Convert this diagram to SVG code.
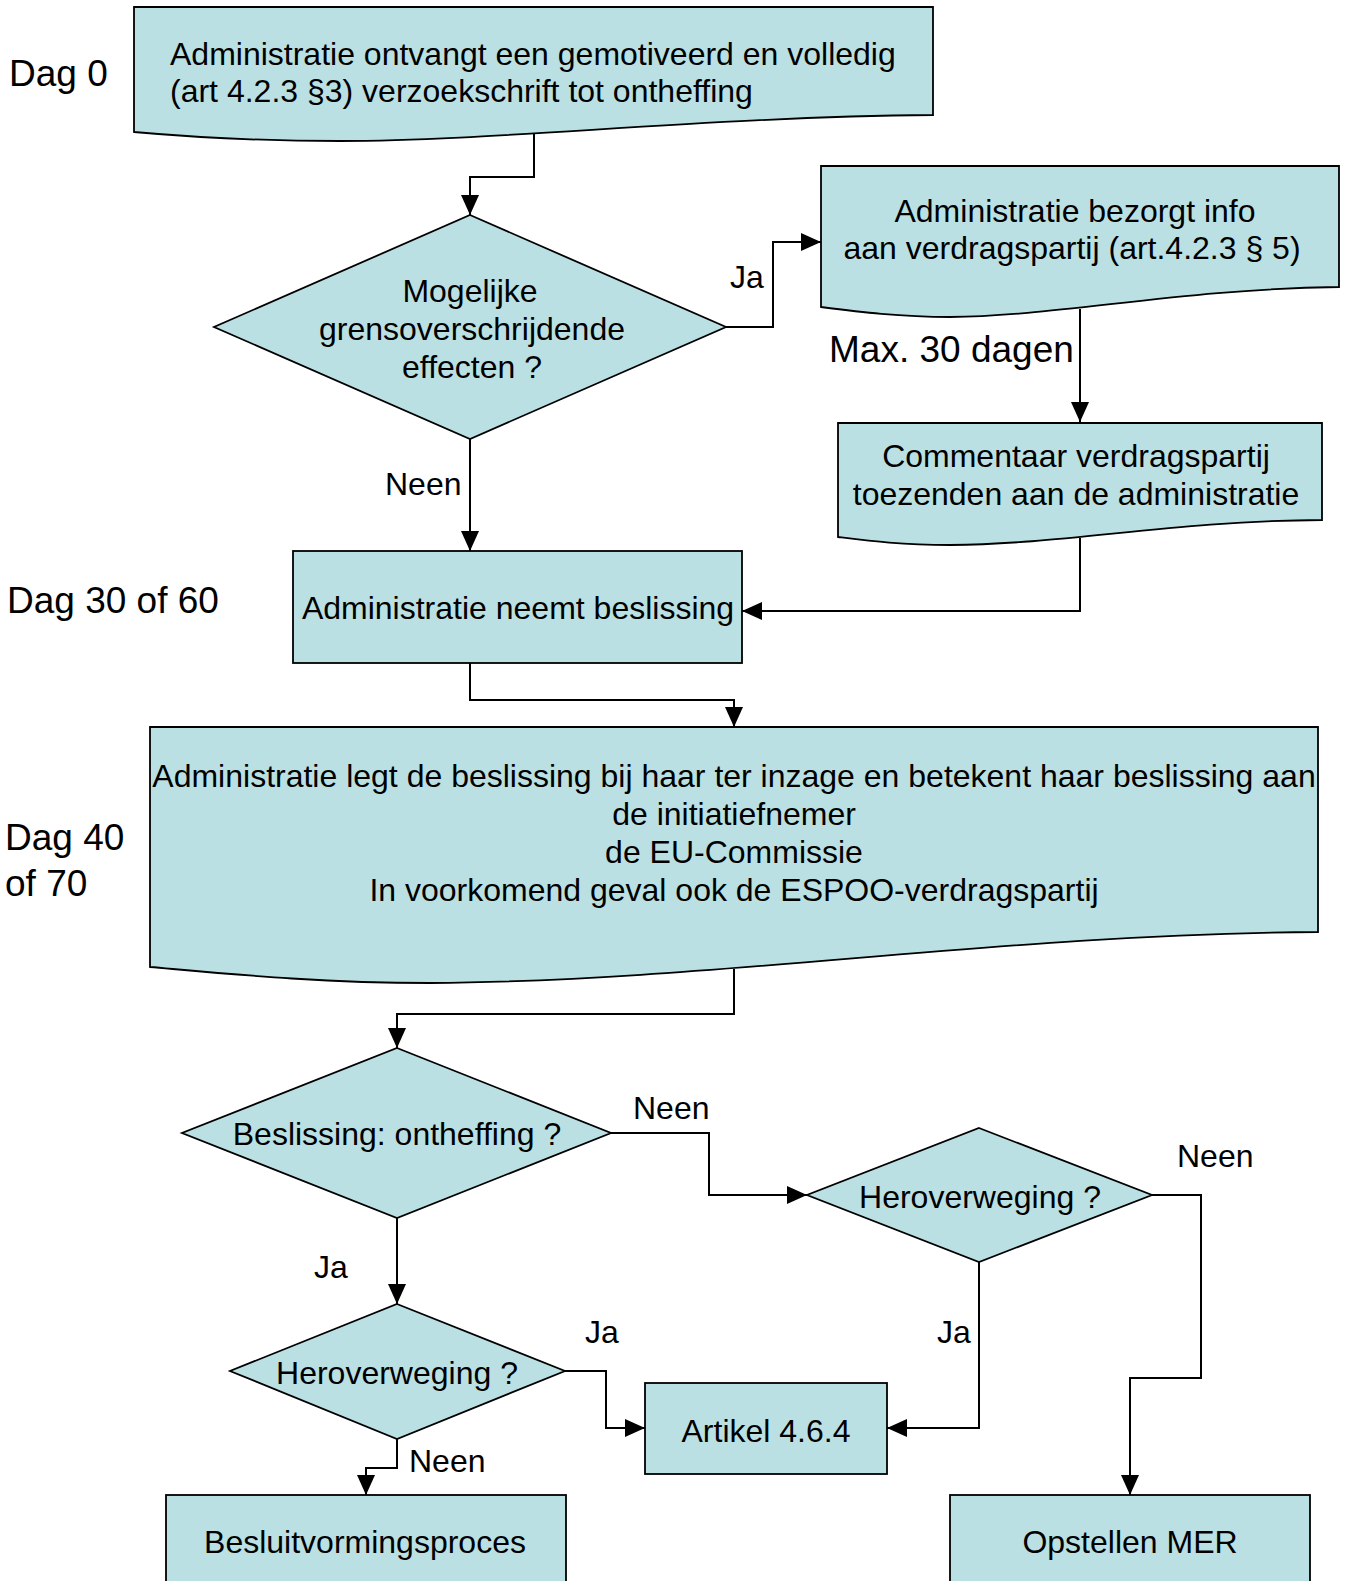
<svg xmlns="http://www.w3.org/2000/svg" width="1345" height="1581" viewBox="0 0 1345 1581">
<style>
.s{fill:#BBE0E3;stroke:#000;stroke-width:1.8}
.c{fill:none;stroke:#000;stroke-width:2}
text{font-family:"Liberation Sans",Arial,sans-serif;font-size:32px;fill:#000}
.m{text-anchor:middle}
.l{font-size:37px}
</style>
<defs>
<marker id="a" markerUnits="userSpaceOnUse" markerWidth="20" markerHeight="18" refX="20" refY="9" orient="auto" viewBox="0 0 20 18">
<path d="M0,0 L20,9 L0,18 Z" fill="#000"/>
</marker>
</defs>
<rect width="1345" height="1581" fill="#fff"/>
<g id="labels">
<text class="l" x="9" y="86">Dag 0</text>
<text class="l" x="7" y="613">Dag 30 of 60</text>
<text class="l" x="5" y="850">Dag 40</text>
<text class="l" x="5" y="896">of 70</text>
<text class="l" x="829" y="362">Max. 30 dagen</text>
<text x="730" y="288">Ja</text>
<text x="385" y="495">Neen</text>
<text x="633" y="1119">Neen</text>
<text x="1177" y="1167">Neen</text>
<text x="314" y="1278">Ja</text>
<text x="585" y="1343">Ja</text>
<text x="937" y="1343">Ja</text>
<text x="409" y="1472">Neen</text>
</g>
<g id="connectors">
<path class="c" d="M534,133 V177 H470 V215" marker-end="url(#a)"/>
<path class="c" d="M726,327 H773 V242 H821" marker-end="url(#a)"/>
<path class="c" d="M1080,309 V422" marker-end="url(#a)"/>
<path class="c" d="M1080,538 V611 H742" marker-end="url(#a)"/>
<path class="c" d="M470,439 V551" marker-end="url(#a)"/>
<path class="c" d="M470,663 V700 H734 V727" marker-end="url(#a)"/>
<path class="c" d="M734,969 V1014 H397 V1048" marker-end="url(#a)"/>
<path class="c" d="M611,1133 H709 V1195 H807" marker-end="url(#a)"/>
<path class="c" d="M1152,1195 H1201 V1378 H1130 V1495" marker-end="url(#a)"/>
<path class="c" d="M979,1262 V1428 H887" marker-end="url(#a)"/>
<path class="c" d="M397,1218 V1304" marker-end="url(#a)"/>
<path class="c" d="M565,1371 H606 V1428 H645" marker-end="url(#a)"/>
<path class="c" d="M397,1439 V1468 H366 V1495" marker-end="url(#a)"/>
</g>
<g id="n1">
<path class="s" d="M134,7 H933 V115 C700,117 500,141 340,141 C250,141 190,137 134,132 Z"/>
<text x="170" y="65">Administratie ontvangt een gemotiveerd en volledig</text>
<text x="170" y="102">(art 4.2.3 §3) verzoekschrift tot ontheffing</text>
</g>
<g id="n2">
<path class="s" d="M470,215 L726,327 L470,439 L214,327 Z"/>
<text class="m" x="470" y="302">Mogelijke</text>
<text class="m" x="472" y="340">grensoverschrijdende</text>
<text class="m" x="472" y="378">effecten ?</text>
</g>
<g id="n3">
<path class="s" d="M821,166 H1339 V287 C1180,289 1060,316 950,317 C900,317 860,312 821,307 Z"/>
<text class="m" x="1075" y="222">Administratie bezorgt info</text>
<text class="m" x="1072" y="259">aan verdragspartij (art.4.2.3 § 5)</text>
</g>
<g id="n4">
<path class="s" d="M838,423 H1322 V520 C1170,521 1070,544 950,545 C900,545 870,541 838,537 Z"/>
<text class="m" x="1076" y="467">Commentaar verdragspartij</text>
<text class="m" x="1076" y="505">toezenden aan de administratie</text>
</g>
<g id="n5">
<rect class="s" x="293" y="551" width="449" height="112"/>
<text class="m" x="518" y="619">Administratie neemt beslissing</text>
</g>
<g id="n6">
<path class="s" d="M150,727 H1318 V932 C1000,934 720,981 430,983 C320,983 230,974 150,967 Z"/>
<text class="m" x="734" y="787">Administratie legt de beslissing bij haar ter inzage en betekent haar beslissing aan</text>
<text class="m" x="734" y="825">de initiatiefnemer</text>
<text class="m" x="734" y="863">de EU-Commissie</text>
<text class="m" x="734" y="901">In voorkomend geval ook de ESPOO-verdragspartij</text>
</g>
<g id="n7">
<path class="s" d="M397,1048 L611,1133 L397,1218 L182,1133 Z"/>
<text class="m" x="397" y="1145">Beslissing: ontheffing ?</text>
</g>
<g id="n8">
<path class="s" d="M979,1128 L1152,1195 L979,1262 L807,1195 Z"/>
<text class="m" x="980" y="1208">Heroverweging ?</text>
</g>
<g id="n9">
<path class="s" d="M397,1304 L565,1371 L397,1439 L230,1371 Z"/>
<text class="m" x="397" y="1384">Heroverweging ?</text>
</g>
<g id="n10">
<rect class="s" x="645" y="1383" width="242" height="91"/>
<text class="m" x="766" y="1442">Artikel 4.6.4</text>
</g>
<g id="n11">
<rect class="s" x="166" y="1495" width="400" height="100"/>
<text class="m" x="365" y="1553">Besluitvormingsproces</text>
</g>
<g id="n12">
<rect class="s" x="950" y="1495" width="360" height="100"/>
<text class="m" x="1130" y="1553">Opstellen MER</text>
</g>
</svg>
